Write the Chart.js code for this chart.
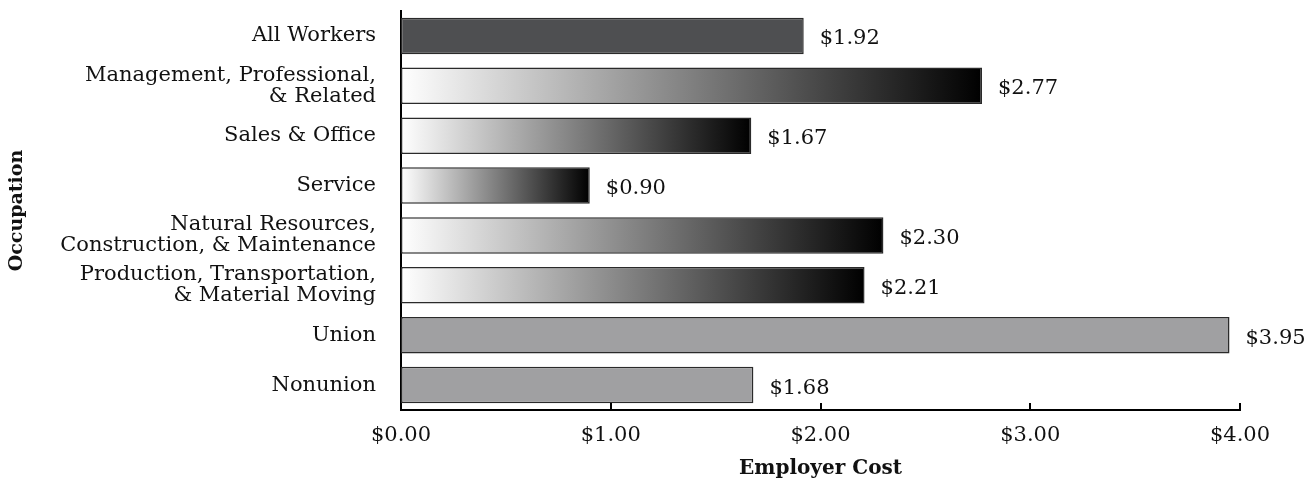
<!DOCTYPE html>
<html>
<head>
<meta charset="utf-8">
<script src="https://cdn.jsdelivr.net/npm/chart.js@4"></script>
<style>
  html, body { margin: 0; padding: 0; background: #fff; }
  #wrap { width: 1315px; height: 481px; }
</style>
</head>
<body>
<div id="wrap"><canvas id="costChart" width="1315" height="481"></canvas></div>
<script>
const categories = [
    'All Workers',
    ['Management, Professional,', '& Related'],
    'Sales & Office',
    'Service',
    ['Natural Resources,', 'Construction, & Maintenance'],
    ['Production, Transportation,', '& Material Moving'],
    'Union',
    'Nonunion'
];
const costs = [1.92, 2.77, 1.67, 0.90, 2.30, 2.21, 3.95, 1.68];
// solid fill or 'gradient' for each bar
const fills = ['#4e4f51', 'gradient', 'gradient', 'gradient', 'gradient', 'gradient', '#a0a0a2', '#a0a0a2'];
const xTicks = [0, 1, 2, 3, 4];

const FONT = "'DejaVu Serif', serif";

// gradient from white at zero to black at the end of each bar
function barFill(context) {
    const f = fills[context.dataIndex];
    if (f !== 'gradient') return f;
    const chart = context.chart;
    const xs = chart.scales.x;
    if (!chart.chartArea || !xs) return '#888';
    const x0 = xs.getPixelForValue(0);
    const x1 = xs.getPixelForValue(costs[context.dataIndex]);
    const g = chart.ctx.createLinearGradient(x0, 0, x1, 0);
    g.addColorStop(0, '#ffffff');
    g.addColorStop(1, '#000000');
    return g;
}

// value labels right of the bars + x ticks pointing up into the plot
const extras = {
    id: 'extras',
    afterDatasetsDraw(chart) {
        const ctx = chart.ctx;
        const meta = chart.getDatasetMeta(0);
        ctx.save();
        ctx.font = "21px " + FONT;
        ctx.fillStyle = '#111';
        ctx.textBaseline = 'middle';
        ctx.textAlign = 'left';
        meta.data.forEach((bar, i) => {
            ctx.fillText('$' + costs[i].toFixed(2), bar.x + 16, bar.y + 3);
        });
        const xs = chart.scales.x;
        const bottom = chart.chartArea.bottom;
        ctx.strokeStyle = '#000';
        ctx.lineWidth = 2;
        xTicks.forEach(v => {
            if (v === 0) return;
            const px = Math.round(xs.getPixelForValue(v));
            ctx.beginPath();
            ctx.moveTo(px, bottom);
            ctx.lineTo(px, bottom - 7);
            ctx.stroke();
        });
        ctx.restore();
    }
};

new Chart(document.getElementById('costChart'), {
    type: 'bar',
    data: {
        labels: categories,
        datasets: [{
            data: costs,
            backgroundColor: barFill,
            borderColor: '#2a2a2a',
            borderWidth: 1.5,
            borderSkipped: false,
            categoryPercentage: 1,
            barPercentage: 0.73
        }]
    },
    options: {
        indexAxis: 'y',
        responsive: false,
        animation: false,
        layout: { padding: { top: 11, right: 75, bottom: 0, left: 0 } },
        plugins: { legend: { display: false }, tooltip: { enabled: false } },
        scales: {
            x: {
                min: 0, max: 4,
                afterBuildTicks: s => { s.ticks = xTicks.map(v => ({ value: v })); },
                afterFit: s => { s.height = 71; s.paddingLeft = 0; s.paddingRight = 0; },
                grid: { display: false },
                border: { display: true, color: '#000', width: 2 },
                ticks: {
                    padding: 5,
                    color: '#111',
                    font: { family: FONT, size: 21 },
                    callback: v => '$' + Number(v).toFixed(2)
                },
                title: {
                    display: true,
                    text: 'Employer Cost',
                    color: '#111',
                    font: { family: FONT, size: 20, weight: 'bold' },
                    padding: { top: 0, bottom: 0 }
                }
            },
            y: {
                afterFit: s => { s.width = 401; s.paddingTop = 0; s.paddingBottom = 0; },
                grid: { display: false },
                border: { display: true, color: '#000', width: 2 },
                ticks: {
                    padding: 17,
                    color: '#111',
                    font: { family: FONT, size: 21, lineHeight: 1.0 }
                },
                title: {
                    display: true,
                    text: 'Occupation',
                    color: '#111',
                    font: { family: FONT, size: 19, weight: 'bold' },
                    padding: { top: 6, bottom: 0 }
                }
            }
        }
    },
    plugins: [extras]
});
</script>
</body>
</html>
